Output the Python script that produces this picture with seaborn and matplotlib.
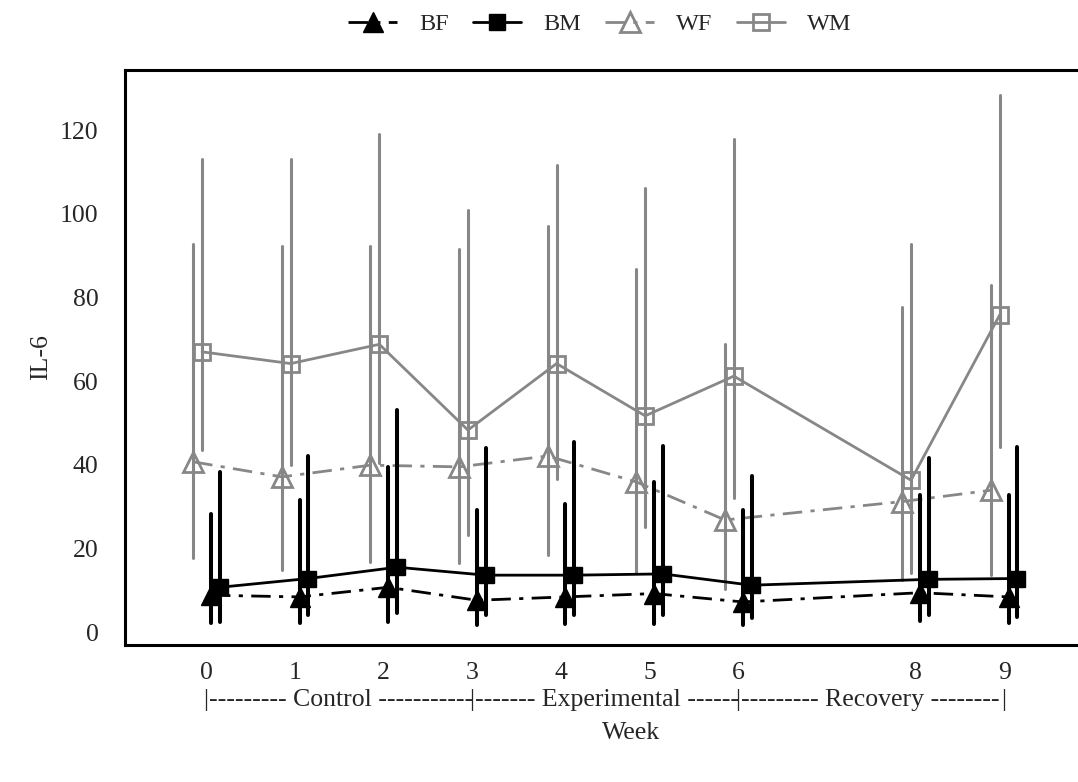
import numpy as np
import pandas as pd
import matplotlib
matplotlib.use("Agg")
import matplotlib.pyplot as plt
import matplotlib.transforms as mtransforms
import seaborn as sns

sns.set_style("white")
plt.rcParams["font.family"] = ["Liberation Serif", "DejaVu Serif"]

weeks = [0, 1, 2, 3, 4, 5, 6, 8, 9]
tick_labels = ["0", "1", "2", "3", "4", "5", "6", "8", "9"]

wm_mean = [67.0, 64.2, 68.8, 48.3, 64.2, 51.7, 61.2, 36.3, 75.8]
wm_hi = [113.2, 113.2, 119.0, 100.9, 111.8, 106.1, 118.0, 92.7, 128.5]
wm_lo = [43.5, 40.0, 40.5, 23.2, 36.7, 25.2, 32.0, 14.2, 44.3]

wf_mean = [40.7, 37.1, 39.9, 39.5, 42.1, 35.9, 26.8, 31.2, 33.9]
wf_hi = [92.8, 92.4, 92.4, 91.7, 97.1, 86.9, 68.8, 77.8, 83.1]
wf_lo = [17.8, 14.8, 16.8, 16.4, 18.4, 14.4, 10.4, 12.4, 13.6]

bm_mean = [10.7, 12.8, 15.5, 13.6, 13.6, 13.9, 11.2, 12.6, 12.8]
bm_hi = [38.2, 42.1, 53.1, 43.9, 45.5, 44.5, 37.3, 41.5, 44.3]
bm_lo = [2.5, 4.1, 4.5, 4.1, 4.1, 4.1, 3.3, 4.1, 3.7]

bf_mean = [8.8, 8.4, 10.7, 7.6, 8.4, 9.2, 7.2, 9.4, 8.4]
bf_hi = [28.2, 31.6, 39.4, 29.2, 30.6, 35.9, 29.2, 32.8, 32.8]
bf_lo = [2.1, 2.1, 2.5, 1.7, 1.9, 1.9, 1.7, 2.7, 2.2]

phases = ["Control", "Experimental", "Recovery"]

gray = "#878787"
dashdot = (0, (7, 3, 1.5, 3))

# group name -> (mean, lo, hi, dodge, color, marker, filled, linestyle, bar width)
groups = {
    "WM": (wm_mean, wm_lo, wm_hi, -0.05, gray, "s", False, "-", 2.2),
    "WF": (wf_mean, wf_lo, wf_hi, -0.15, gray, "^", False, dashdot, 2.2),
    "BM": (bm_mean, bm_lo, bm_hi, 0.15, "black", "s", True, "-", 2.9),
    "BF": (bf_mean, bf_lo, bf_hi, 0.05, "black", "^", True, dashdot, 2.9),
}

fig = plt.figure(figsize=(10.78, 7.82), dpi=100)
ax = fig.add_axes([125 / 1078, 1 - 645 / 782, (1137 - 125) / 1078, (645 - 70) / 782])

for name, (mean, lo, hi, dx, color, marker, filled, ls, bw) in groups.items():
    x = np.array(weeks) + dx
    z = 2 if color == gray else 3
    df = pd.DataFrame({"Week": x, "IL6": mean})
    ax.vlines(x, lo, hi, colors=color, linewidth=bw, capstyle="round", zorder=z)
    sns.lineplot(
        data=df, x="Week", y="IL6", ax=ax, estimator=None, sort=False,
        color=color, linewidth=2.0, linestyle=ls, marker=marker,
        markersize=12 if marker == "s" else 14,
        markerfacecolor=color if filled else "none",
        markeredgecolor=color, markeredgewidth=2.0 if not filled else 1.0,
        label=name, zorder=z,
    )

ax.set_xlim(-0.92, 10.5)
ax.set_ylim(-3.1, 134.4)
ax.set_xticks(weeks)
ax.set_xticklabels(tick_labels)
ax.set_yticks([0, 20, 40, 60, 80, 100, 120])
ax.tick_params(axis="both", direction="out", width=2.2, labelsize=18.5)
ax.tick_params(axis="y", length=9, pad=10)
ax.tick_params(axis="x", length=9.5, pad=3)
for s in ax.spines.values():
    s.set_linewidth(2.2)
    s.set_color("black")

ax.set_ylabel("IL-6", fontsize=18.5, labelpad=6)
ax.set_xlabel("")

# phase brackets under the week ticks
trans = mtransforms.blended_transform_factory(ax.transData, ax.transAxes)
segments = [
    "|--------- " + phases[0] + " -----------",
    "|------- " + phases[1] + " ------",
    "|--------- " + phases[2] + " --------",
]
for start, seg in zip([0, 3, 6], segments):
    ax.text(start - 0.03, -0.0957, seg, transform=trans, ha="left", va="center",
            fontsize=18.5)
ax.text(9, -0.0957, "|", transform=trans, ha="center", va="center", fontsize=18.5)
fig.text(631 / 1078, 1 - 733 / 782, "Week", ha="center", va="center", fontsize=18.5)

ax.get_legend().remove()
handles, labels = ax.get_legend_handles_labels()
order = ["BF", "BM", "WF", "WM"]
hmap = dict(zip(labels, handles))
fig.legend([hmap[k] for k in order], order, loc="center",
           bbox_to_anchor=(600 / 1078, 1 - 24 / 782), ncol=4, frameon=False,
           fontsize=17.5, handlelength=2.0, handletextpad=0.9, columnspacing=1.0)

fig.savefig("out.png", dpi=100)
